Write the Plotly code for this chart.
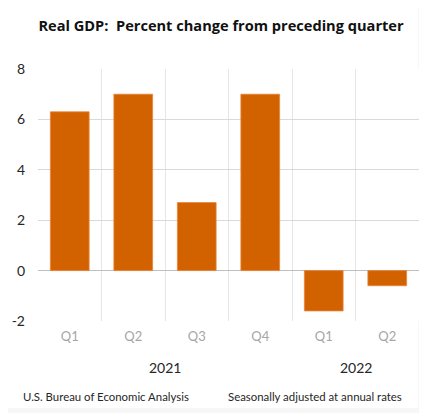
import plotly.graph_objects as go

# Real GDP, percent change from preceding quarter (SAAR)
years = ["2021", "2021", "2021", "2021", "2022", "2022"]
quarters = ["Q1", "Q2", "Q3", "Q4", "Q1", "Q2"]
pct_change = [6.3, 7.0, 2.7, 7.0, -1.6, -0.6]

y_ticks = [-2, 0, 2, 4, 6, 8]

BAR_COLOR = "#d26100"
FONT = "Lato"
TEXT = "#262626"

# the page body adds 8px, so the figure is drawn 8px smaller
W, H = 419, 405

categories = [f"{y} {q}" for y, q in zip(years, quarters)]

fig = go.Figure()
fig.add_trace(go.Bar(
    x=categories,
    y=pct_change,
    marker=dict(color=BAR_COLOR, line=dict(color="#e8843a", width=0.8)),
    hoverinfo="x+y",
))

# year labels centred under their quarters
for yr in dict.fromkeys(years):
    idx = [i for i, y in enumerate(years) if y == yr]
    fig.add_annotation(
        x=sum(idx) / len(idx), xref="x",
        y=-0.183, yref="paper", yanchor="middle",
        text=yr, showarrow=False,
        font=dict(family=FONT, size=14, color=TEXT),
    )

fig.add_annotation(x=-17 / 381, xref="paper", xanchor="left",
                   y=-0.298, yref="paper", yanchor="middle",
                   text="U.S. Bureau of Economic Analysis", showarrow=False,
                   font=dict(family=FONT, size=11.4, color=TEXT))
fig.add_annotation(x=366 / 381, xref="paper", xanchor="right",
                   y=-0.298, yref="paper", yanchor="middle",
                   text="Seasonally adjusted at annual rates", showarrow=False,
                   font=dict(family=FONT, size=11.4, color=TEXT))

fig.update_layout(
    width=W, height=H,
    margin=dict(l=30, r=8, t=61, b=92, autoexpand=False),
    paper_bgcolor="#f7f7f7",
    plot_bgcolor="white",
    showlegend=False,
    bargap=0.39,
    font=dict(family=FONT),
    title=dict(
        text="<b>Real GDP:  Percent change from preceding quarter</b>",
        x=213 / W, xanchor="center", xref="container",
        y=1 - 18 / H, yanchor="middle", yref="container",
        font=dict(family="Open Sans", size=14.6, color="#111111"),
    ),
    shapes=[dict(type="rect", xref="paper", yref="paper",
                 x0=-0.2, x1=0.997, y0=-0.345, y1=1.4,
                 fillcolor="white", line=dict(width=0), layer="below")],
)

fig.update_xaxes(
    type="category", automargin=False,
    tickmode="array", tickvals=categories, ticktext=quarters,
    tickson="boundaries", ticks="",
    showgrid=True, gridcolor="#e6e6e6", gridwidth=1,
    showline=False, zeroline=False,
    tickfont=dict(family=FONT, size=13, color="#a6a6a6"),
    ticklabelstandoff=6,
)
fig.update_yaxes(
    range=[-2, 8], automargin=False,
    tickmode="array", tickvals=y_ticks, ticktext=[str(v) for v in y_ticks],
    showgrid=True, gridcolor="#d9d9d9", gridwidth=1,
    zeroline=True, zerolinecolor="#bfbfbf", zerolinewidth=1.3,
    showline=False, ticks="",
    tickfont=dict(family=FONT, size=14, color=TEXT),
    ticklabelstandoff=12,
)

fig.write_html("out.html")
